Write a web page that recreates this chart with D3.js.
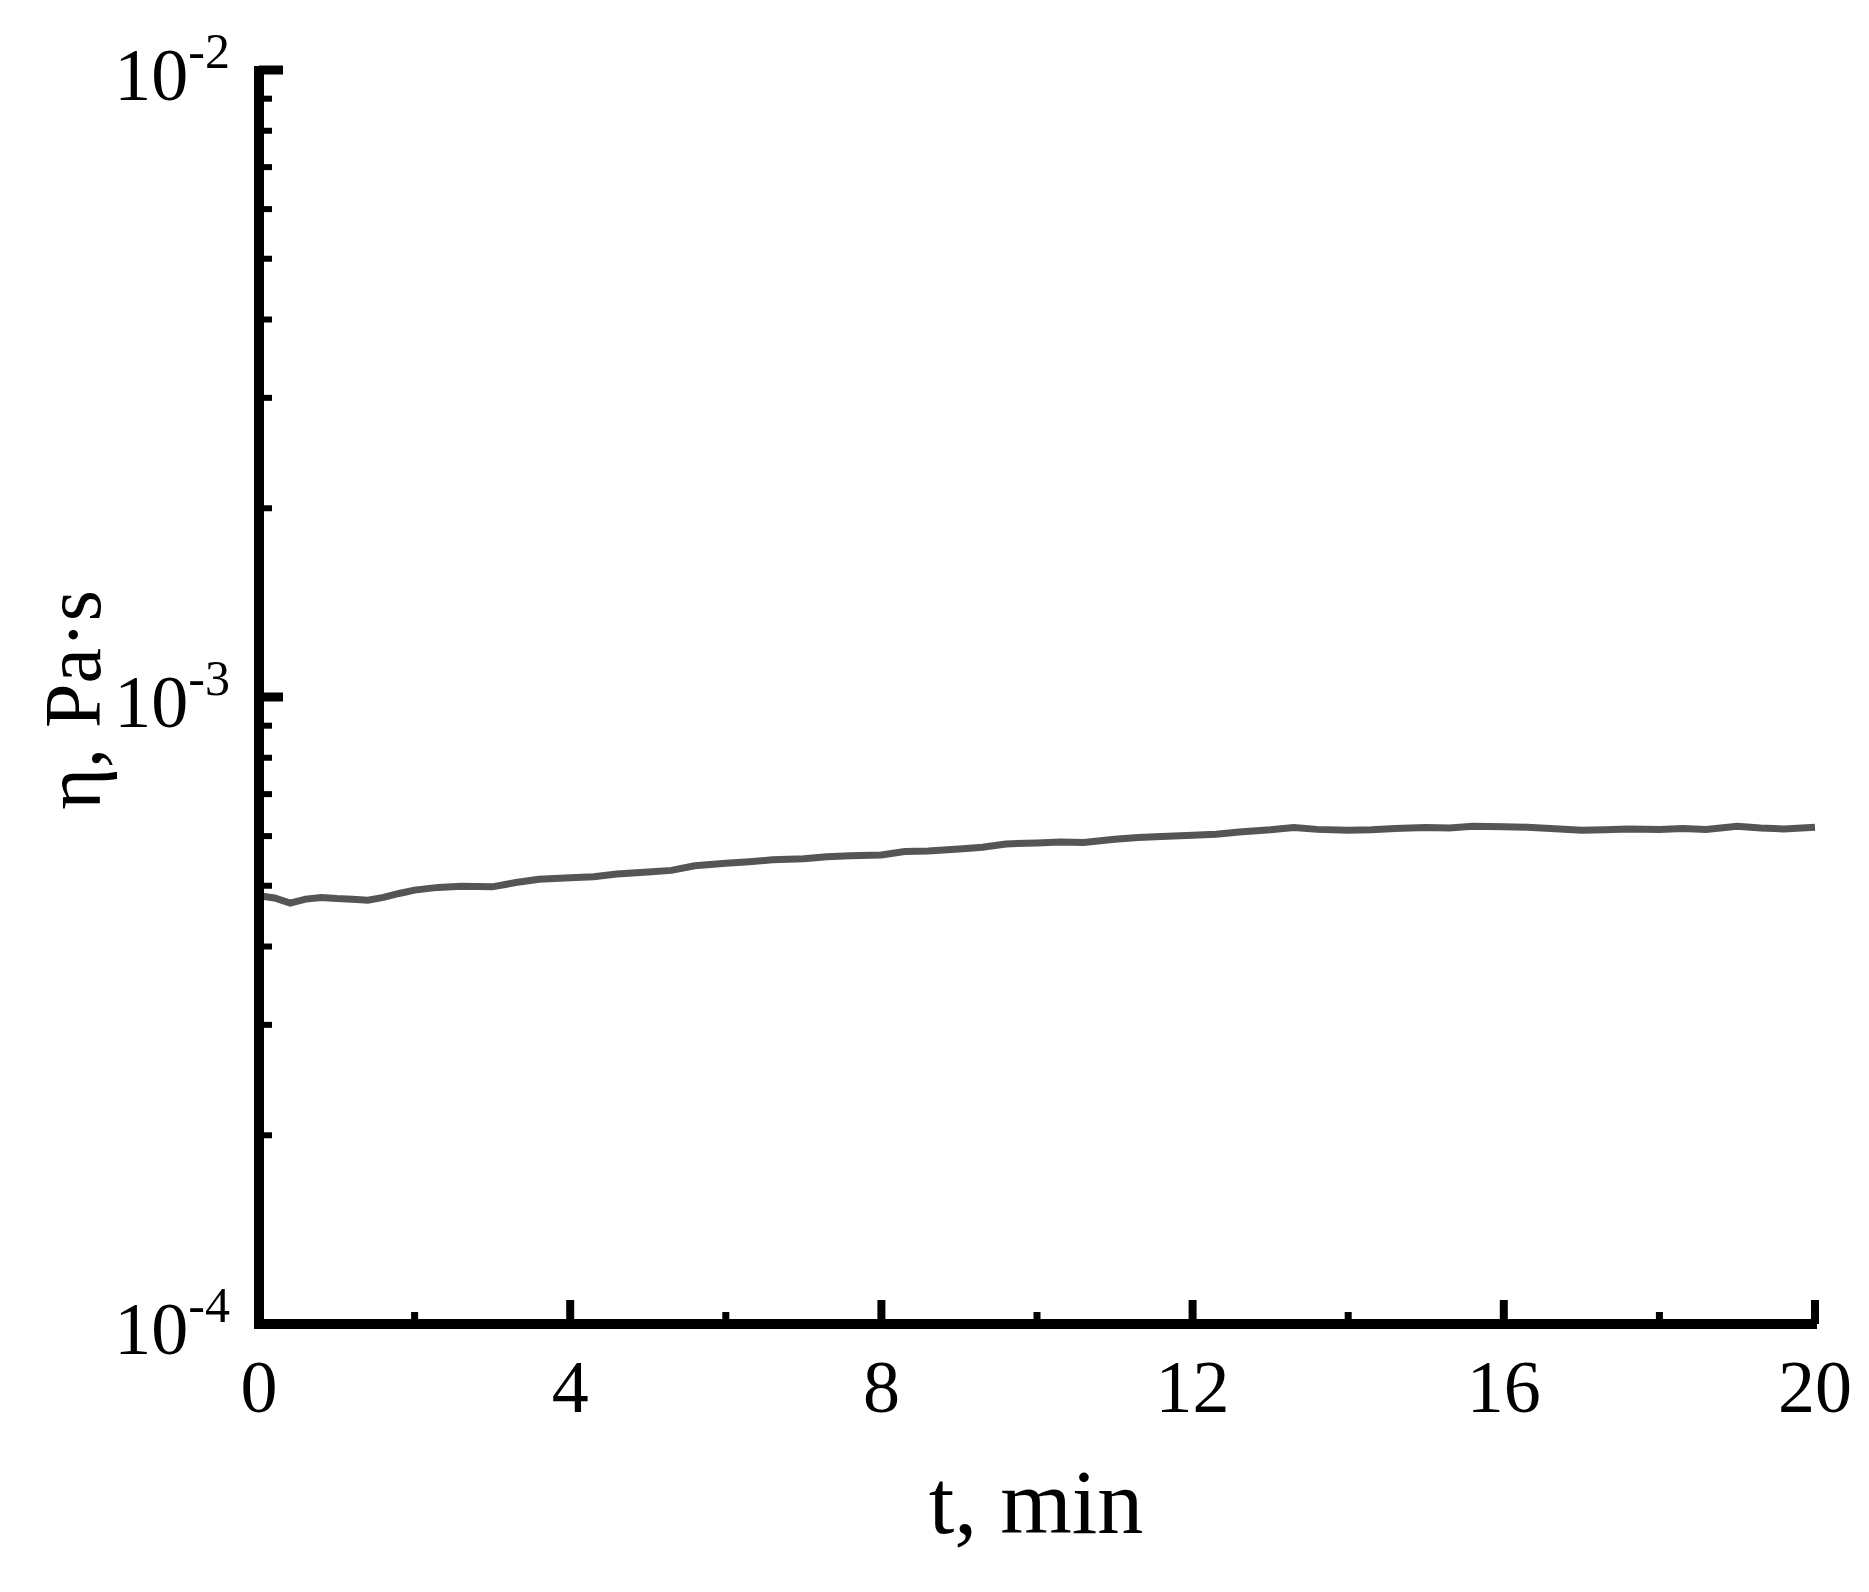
<!DOCTYPE html>
<html><head><meta charset="utf-8">
<script src="https://cdn.jsdelivr.net/npm/d3@7"></script>
<style>body{margin:0;background:#fff}</style></head>
<body><svg id="c" width="1869" height="1592"></svg>
<script>
const timeMin = [0,0.2,0.4,0.6,0.8,1,1.2,1.4,1.6,1.8,2,2.3,2.6,3,3.3,3.6,4,4.3,4.6,5,5.3,5.6,6,6.3,6.6,7,7.3,7.6,8,8.3,8.6,9,9.3,9.6,10,10.3,10.6,11,11.3,11.6,12,12.3,12.6,13,13.3,13.6,14,14.3,14.6,15,15.3,15.6,16,16.3,16.6,17,17.3,17.6,18,18.3,18.6,19,19.3,19.6,20];
const viscosity = [4.82e-4,4.78e-4,4.69e-4,4.76e-4,4.79e-4,4.77e-4,4.76e-4,4.74e-4,4.79e-4,4.86e-4,4.92e-4,4.97e-4,4.99e-4,4.98e-4,5.06e-4,5.12e-4,5.15e-4,5.17e-4,5.22e-4,5.26e-4,5.29e-4,5.38e-4,5.43e-4,5.46e-4,5.50e-4,5.52e-4,5.56e-4,5.58e-4,5.60e-4,5.67e-4,5.68e-4,5.72e-4,5.76e-4,5.83e-4,5.85e-4,5.87e-4,5.86e-4,5.93e-4,5.97e-4,5.99e-4,6.02e-4,6.04e-4,6.09e-4,6.14e-4,6.19e-4,6.15e-4,6.13e-4,6.14e-4,6.17e-4,6.19e-4,6.18e-4,6.22e-4,6.21e-4,6.20e-4,6.17e-4,6.13e-4,6.14e-4,6.16e-4,6.15e-4,6.17e-4,6.15e-4,6.22e-4,6.18e-4,6.16e-4,6.20e-4];
const xTicks = [0,4,8,12,16,20];
const xMinor = [2,6,10,14,18];
const yDecades = [-4,-3,-2];

const svg = d3.select("#c");
const x = d3.scaleLinear().domain([0,20]).range([259,1815]);
const y = d3.scaleLog().domain([1e-4,1e-2]).range([1324,70]);
const font = "'Liberation Serif','Times New Roman',serif";

svg.append("path").datum(d3.zip(timeMin,viscosity))
  .attr("fill","none").attr("stroke","#555").attr("stroke-width",7)
  .attr("d", d3.line().x(d=>x(d[0])).y(d=>y(d[1])));

// minor y ticks
const yMinor = [];
[-4,-3].forEach(e=>{for(let m=2;m<=9;m++) yMinor.push(m*Math.pow(10,e));});
svg.selectAll(".ymin").data(yMinor).enter().append("line")
  .attr("x1",259).attr("x2",272).attr("y1",d=>y(d)).attr("y2",d=>y(d))
  .attr("stroke","#000").attr("stroke-width",6);
svg.selectAll(".ymaj").data(yDecades).enter().append("line")
  .attr("x1",259).attr("x2",283).attr("y1",d=>y(Math.pow(10,d))).attr("y2",d=>y(Math.pow(10,d)))
  .attr("stroke","#000").attr("stroke-width",9);
svg.selectAll(".xmaj").data(xTicks).enter().append("line")
  .attr("x1",d=>x(d)).attr("x2",d=>x(d)).attr("y1",1324).attr("y2",1300)
  .attr("stroke","#000").attr("stroke-width",8);
svg.selectAll(".xmin").data(xMinor).enter().append("line")
  .attr("x1",d=>x(d)).attr("x2",d=>x(d)).attr("y1",1324).attr("y2",1312)
  .attr("stroke","#000").attr("stroke-width",7);
// axes lines
svg.append("path").attr("d",`M259,66V1324H1817`).attr("fill","none")
  .attr("stroke","#000").attr("stroke-width",10);

svg.selectAll(".xl").data(xTicks).enter().append("text")
  .attr("x",d=>x(d)).attr("y",1412).attr("text-anchor","middle")
  .attr("font-family",font).attr("font-size",74).text(d=>d);
const yl = svg.selectAll(".yl").data(yDecades).enter().append("text")
  .attr("x",230).attr("y",d=>y(Math.pow(10,d))+30).attr("text-anchor","end")
  .attr("font-family",font).attr("font-size",74);
yl.append("tspan").text("10");
yl.append("tspan").attr("font-size",50).attr("dy",-32).text(d=>"-"+(-d));

svg.append("text").attr("x",1036).attr("y",1533).attr("text-anchor","middle")
  .attr("font-family",font).attr("font-size",92).text("t, min");
svg.append("text").attr("transform","translate(100,700) rotate(-90)").attr("text-anchor","middle")
  .attr("font-family",font).attr("font-size",80).text("η, Pa·s");
</script></body></html>
